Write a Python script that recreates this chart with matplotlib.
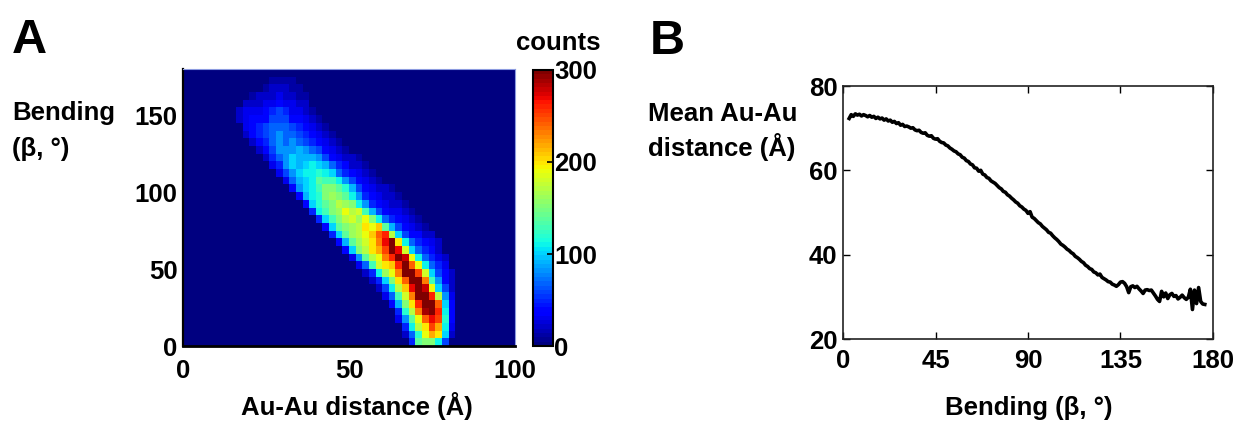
import numpy as np
import matplotlib
matplotlib.use("Agg")
import matplotlib.pyplot as plt

# ---------------- data ----------------
# Panel A: 2D histogram of Au-Au distance (2 Å bins, 0-100) vs bending (5° bins, 0-180).
# Each row is one bending bin, listed from 0-5° upward. row_start is the first
# non-empty distance bin; every character of row_codes is a count in units of 10
# (base-36 digit: '0'=0, 'a'=100, 'k'=200, 'u'=300).
dist_edges_step = 2.0
bend_edges_step = 5.0
n_dist_bins = 50
n_bend_bins = 36
row_start = [34, 33, 33, 32, 32, 31, 30, 29, 28, 27,
             26, 25, 24, 23, 22, 21, 20, 19, 18, 17,
             16, 15, 14, 13, 12, 11, 10, 9, 9, 8,
             8, 9, 10, 12, 13]
row_codes = [
    "5effb6",
    "27cjmka2",
    "5bhkpmb3",
    "38ejorpc4",
    "5chntvqb4",
    "49fkqwvoa4",
    "37dinvvqh83",
    "26bhlrwsja62",
    "25afkovund842",
    "25bgjnuvpia642",
    "37diklqvojb753",
    "38ehjnqusjb7532",
    "4afhkmpvria7542",
    "49egiknrwkb75432",
    "5aeghjloqha64422",
    "4aefghkjle964321",
    "5adfhigjfb754321",
    "5bdfgjhid9643321",
    "4acefhgfb8543221",
    "49bcfgfeb8543221",
    "48abdffec9643221",
    "379abeddb864321",
    "368abbcba754321",
    "358a9aba9754221",
    "2578a9998643221",
    "24688898764321",
    "24578787654321",
    "24567877654321",
    "3456777654321",
    "2344466644321",
    "233345653321",
    "2223343322",
    "122232211",
    "122211",
    "1111",
]

# Panel B: mean Au-Au distance per 1° bending bin.
bend_deg = np.arange(3, 177)
mean_dist = [
    72.3, 73.2, 72.8, 73.4, 73.1, 73.3, 72.9, 73.2, 73.0, 72.7,
    73.0, 72.6, 72.8, 72.3, 72.6, 72.2, 72.4, 71.9, 72.2, 71.7,
    71.9, 71.4, 71.6, 71.1, 71.3, 70.7, 70.9, 70.4, 70.5, 70.3,
    70.0, 70.1, 69.6, 69.4, 69.5, 69.0, 68.8, 68.9, 68.3, 68.1,
    68.2, 67.6, 67.4, 67.5, 66.9, 66.6, 66.5, 66.0, 65.8, 65.3,
    65.0, 64.6, 64.4, 63.9, 63.7, 63.1, 62.9, 62.3, 62.1, 61.5,
    61.3, 60.6, 60.5, 59.8, 60.0, 59.1, 58.9, 58.3, 58.1, 57.5,
    57.2, 56.9, 56.4, 55.9, 55.6, 55.0, 54.8, 54.2, 53.9, 53.4,
    53.0, 52.5, 52.2, 51.6, 51.3, 50.8, 50.5, 49.8, 50.2, 48.9,
    48.6, 48.1, 47.6, 47.3, 46.7, 46.3, 45.9, 45.3, 45.1, 44.5,
    44.0, 43.6, 43.1, 42.5, 42.2, 41.8, 41.3, 41.0, 40.5, 40.2,
    39.6, 39.3, 38.9, 38.4, 38.1, 37.5, 37.2, 36.7, 36.5, 35.9,
    35.7, 35.2, 35.4, 34.6, 34.3, 34.0, 33.6, 33.5, 33.0, 32.8,
    32.5, 32.9, 33.5, 33.6, 33.2, 32.4, 31.0, 32.4, 32.6, 32.2,
    32.5, 31.9, 31.4, 30.8, 31.6, 31.7, 31.5, 31.6, 30.9, 30.2,
    29.4, 28.9, 31.3, 30.0, 30.9, 29.6, 30.5, 30.8, 30.1, 30.3,
    29.5, 29.9, 30.4, 29.8, 29.4, 29.9, 31.8, 27.0, 31.6, 28.4,
    32.2, 28.9, 28.3, 28.2,
]

a_xticks = [0, 50, 100]
a_yticks = [0, 50, 100, 150]
cbar_ticks = [0, 100, 200, 300]
b_xticks = [0, 45, 90, 135, 180]
b_yticks = [20, 40, 60, 80]

# ---------------- build histogram ----------------
counts = np.zeros((n_bend_bins, n_dist_bins))
for j, (s, codes) in enumerate(zip(row_start, row_codes)):
    for k, ch in enumerate(codes):
        counts[j, s + k] = int(ch, 36) * 10
dist_edges = np.arange(n_dist_bins + 1) * dist_edges_step
bend_edges = np.arange(n_bend_bins + 1) * bend_edges_step

# ---------------- figure ----------------
W, H = 1237, 423
fig = plt.figure(figsize=(W / 100, H / 100), dpi=100)
FONT = ["Liberation Sans", "DejaVu Sans"]
plt.rcParams["font.family"] = FONT
plt.rcParams["font.weight"] = "bold"
FS = 18.5


def fx(px):
    return px / W


def fy(py):
    return 1 - py / H


cmap = plt.get_cmap("jet", 64)

# Panel A
axA = fig.add_axes([fx(183), fy(346), 332 / W, 277 / H])
mesh = axA.pcolormesh(dist_edges, bend_edges, counts, cmap=cmap,
                      vmin=0, vmax=300, shading="flat")
axA.set_xlim(0, 100)
axA.set_ylim(0, 180)
axA.set_xticks(a_xticks)
axA.set_yticks(a_yticks)
axA.tick_params(axis="both", length=0, labelsize=FS)
axA.tick_params(axis="x", pad=9)
axA.tick_params(axis="y", pad=4)
for lab in axA.get_xticklabels() + axA.get_yticklabels():
    lab.set_fontweight("bold")
axA.spines["left"].set_linewidth(1.6)
axA.spines["bottom"].set_linewidth(2.0)
for side in ("top", "right"):
    axA.spines[side].set_color("#8c9be0")
    axA.spines[side].set_linewidth(0.8)

cax = fig.add_axes([fx(533), fy(346), 20 / W, 276 / H])
cb = fig.colorbar(mesh, cax=cax, ticks=cbar_ticks)
cb.outline.set_linewidth(1.5)
cax.tick_params(direction="in", length=4, width=1.2, labelsize=FS, pad=1)
for lab in cax.get_yticklabels():
    lab.set_fontweight("bold")
fig.text(fx(558), fy(50), "counts", ha="center", va="baseline",
         fontsize=FS, fontweight="bold")

fig.text(fx(12), fy(53), "A", ha="left", va="baseline",
         fontsize=35, fontweight="bold")
fig.text(fx(12), fy(120), "Bending", ha="left", va="baseline",
         fontsize=FS, fontweight="bold")
fig.text(fx(12), fy(156), "(β, °)", ha="left", va="baseline",
         fontsize=FS, fontweight="bold")
fig.text(fx(357), fy(415), "Au-Au distance (Å)", ha="center", va="baseline",
         fontsize=FS, fontweight="bold")

# Panel B
axB = fig.add_axes([fx(843), fy(339), 370 / W, 253 / H])
axB.plot(bend_deg, mean_dist, color="black", lw=2.6)
axB.set_xlim(0, 180)
axB.set_ylim(20, 80)
axB.set_xticks(b_xticks)
axB.set_yticks(b_yticks)
axB.tick_params(direction="in", length=5, width=1.0, top=True, right=True,
                labelsize=FS)
axB.tick_params(axis="x", pad=7)
axB.tick_params(axis="y", pad=4)
for lab in axB.get_xticklabels() + axB.get_yticklabels():
    lab.set_fontweight("bold")
for sp in axB.spines.values():
    sp.set_linewidth(1.2)
    sp.set_color("#222222")

fig.text(fx(650), fy(54), "B", ha="left", va="baseline",
         fontsize=35, fontweight="bold")
fig.text(fx(648), fy(121), "Mean Au-Au", ha="left", va="baseline",
         fontsize=FS, fontweight="bold")
fig.text(fx(648), fy(156), "distance (Å)", ha="left", va="baseline",
         fontsize=FS, fontweight="bold")
fig.text(fx(1029), fy(415), "Bending (β, °)", ha="center", va="baseline",
         fontsize=FS, fontweight="bold")

fig.savefig("out.png", dpi=100)
